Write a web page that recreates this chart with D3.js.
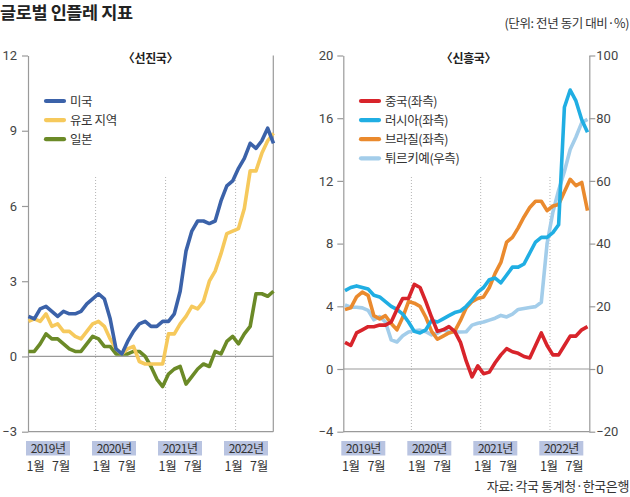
<!DOCTYPE html>
<html><head><meta charset="utf-8">
<script src="https://cdn.jsdelivr.net/npm/d3@7"></script>
<style>
html,body{margin:0;padding:0;background:#fff;}
svg{display:block;font-family:"Noto Sans CJK KR","Noto Sans",sans-serif;}
</style></head>
<body>
<svg id="c" width="630" height="497"></svg>
<script>
// ---------- data ----------
const years = ['2019년', '2020년', '2021년', '2022년'];
const monthLabels = ['1월', '7월'];
const advTicks = [-3, 0, 3, 6, 9, 12];
const emLeftTicks = [-4, 0, 4, 8, 12, 16, 20];
const emRightTicks = [-20, 0, 20, 40, 60, 80, 100];

// monthly, Jan 2019 .. Jul 2022
const usCPI = [1.6,1.5,1.9,2.0,1.8,1.6,1.8,1.7,1.7,1.8,2.1,2.3,
  2.5,2.3,1.5,0.3,0.1,0.6,1.0,1.3,1.4,1.2,1.2,1.4,
  1.4,1.7,2.6,4.2,5.0,5.4,5.4,5.3,5.4,6.2,6.8,7.0,
  7.5,7.9,8.5,8.3,8.6,9.1,8.5];
const euroCPI = [1.4,1.5,1.4,1.7,1.2,1.3,1.0,1.0,0.8,0.7,1.0,1.3,
  1.4,1.2,0.7,0.3,0.1,0.3,0.4,-0.2,-0.3,-0.3,-0.3,-0.3,
  0.9,0.9,1.3,1.6,2.0,1.9,2.2,3.0,3.4,4.1,4.9,5.0,
  5.1,5.9,7.4,7.4,8.1,8.6,8.9];
const japanCPI = [0.2,0.2,0.5,0.9,0.7,0.7,0.5,0.3,0.2,0.2,0.5,0.8,
  0.7,0.4,0.4,0.1,0.1,0.1,0.2,0.2,0.0,-0.4,-0.9,-1.2,
  -0.7,-0.5,-0.4,-1.1,-0.8,-0.5,-0.3,-0.4,0.2,0.1,0.6,0.8,
  0.5,0.9,1.2,2.5,2.5,2.4,2.6];
const chinaCPI = [1.7,1.5,2.3,2.5,2.7,2.7,2.8,2.8,3.0,3.8,4.5,4.5,
  5.4,5.2,4.3,3.3,2.4,2.5,2.7,2.4,1.7,0.5,-0.5,0.2,
  -0.3,-0.2,0.4,0.9,1.3,1.1,1.0,0.8,0.7,1.5,2.3,1.5,
  0.9,0.9,1.5,2.1,2.1,2.5,2.7];
const russiaCPI = [5.0,5.2,5.3,5.2,5.1,4.7,4.6,4.3,4.0,3.8,3.5,3.0,
  2.4,2.3,2.5,3.1,3.0,3.2,3.4,3.6,3.7,4.0,4.4,4.9,
  5.2,5.7,5.8,5.5,6.0,6.5,6.5,6.7,7.4,8.1,8.4,8.4,
  8.7,9.2,16.7,17.8,17.1,15.9,15.1];
const brazilCPI = [3.8,3.9,4.6,4.9,4.7,3.4,3.2,3.4,2.9,2.5,3.3,4.3,
  4.2,4.0,3.3,2.4,1.9,2.1,2.3,2.4,3.1,3.9,4.3,4.5,
  4.6,5.2,6.1,6.8,8.1,8.4,9.0,9.7,10.3,10.7,10.7,10.1,
  10.4,10.5,11.3,12.1,11.7,11.9,10.1];
const turkeyCPI = [20.4,19.7,19.7,19.5,18.7,15.7,16.7,15.0,9.3,8.6,10.6,11.8,
  12.2,12.4,11.9,10.9,11.4,12.6,11.8,11.8,11.8,11.9,14.0,14.6,
  15.0,15.6,16.2,17.1,16.6,17.5,19.0,19.3,19.6,19.9,21.3,40.0,
  50.0,57.0,63.0,70.0,74.0,78.6,79.6];

const advSeries = [
  {name: '미국', values: usCPI, color: '#3b62a9'},
  {name: '유로 지역', values: euroCPI, color: '#f6c95c'},
  {name: '일본', values: japanCPI, color: '#6b8a27'}
];
const emSeries = [
  {name: '중국(좌측)', values: chinaCPI, color: '#d8242b', axis: 'L'},
  {name: '러시아(좌측)', values: russiaCPI, color: '#20aee3', axis: 'L'},
  {name: '브라질(좌측)', values: brazilCPI, color: '#ea8a2e', axis: 'L'},
  {name: '튀르키예(우측)', values: turkeyCPI, color: '#a3cdea', axis: 'R'}
];

// ---------- drawing ----------
const svg = d3.select('#c');
const numFont = '"Liberation Sans Narrow","Roboto","Noto Sans",sans-serif';

svg.append('text').attr('x', 0).attr('y', 19).attr('font-size', 17.5).attr('font-weight', 700)
  .attr('fill', '#222').attr('letter-spacing', -0.4).text('글로벌 인플레 지표');
svg.append('text').attr('x', 629).attr('y', 28).attr('text-anchor', 'end').attr('font-size', 12.5)
  .attr('fill', '#333').attr('letter-spacing', -0.4).text('(단위: 전년 동기 대비·%)');
svg.append('text').attr('x', 629).attr('y', 491).attr('text-anchor', 'end').attr('font-size', 13)
  .attr('fill', '#333').attr('letter-spacing', -0.4).text('자료: 각국 통계청·한국은행');

const TOP = 55.5, BOTTOM = 431.7, GRID_TOP = 177;

function panel(cfg) {
  const g = svg.append('g');
  const n = cfg.series[0].values.length;
  const x = d3.scaleLinear().domain([0, n - 1]).range([cfg.dataL, cfg.dataR]);
  const y = d3.scaleLinear().domain(cfg.yDomain).range([BOTTOM, TOP]);
  const y2 = cfg.y2Domain ? d3.scaleLinear().domain(cfg.y2Domain).range([BOTTOM, TOP]) : null;

  // year gridlines (between Dec and Jan)
  [12, 24, 36].forEach(m => {
    g.append('line').attr('x1', x(m - 0.5)).attr('x2', x(m - 0.5))
      .attr('y1', GRID_TOP).attr('y2', BOTTOM)
      .attr('stroke', '#b5b5b5').attr('stroke-width', 1).attr('stroke-dasharray', '1,2');
  });

  // zero line & bottom line
  g.append('line').attr('x1', cfg.axisL).attr('x2', cfg.axisR).attr('y1', y(0)).attr('y2', y(0))
    .attr('stroke', '#9a9a9a').attr('stroke-width', 1.2);
  g.append('line').attr('x1', cfg.axisL).attr('x2', cfg.axisR).attr('y1', BOTTOM).attr('y2', BOTTOM)
    .attr('stroke', '#9a9a9a').attr('stroke-width', 1.2);

  // left axis
  const ax = g.append('g').attr('transform', `translate(${cfg.axisL},0)`)
    .call(d3.axisLeft(y).tickValues(cfg.ticks).tickSize(6).tickSizeOuter(0).tickPadding(cfg.padL)
      .tickFormat(d3.format('d')));
  // right axis / edge
  let axR;
  if (y2) {
    axR = g.append('g').attr('transform', `translate(${cfg.axisR},0)`)
      .call(d3.axisRight(y2).tickValues(cfg.ticks2).tickSize(6).tickSizeOuter(0).tickPadding(1)
        .tickFormat(d3.format('d')));
  } else {
    g.append('line').attr('x1', cfg.axisR).attr('x2', cfg.axisR).attr('y1', TOP).attr('y2', BOTTOM)
      .attr('stroke', '#9a9a9a').attr('stroke-width', 1.2);
  }
  [ax, axR].forEach(a => {
    if (!a) return;
    a.select('.domain').attr('stroke', '#9a9a9a').attr('stroke-width', 1.2);
    a.selectAll('.tick line').attr('stroke', '#9a9a9a').attr('stroke-width', 1.2);
    a.selectAll('.tick text').attr('font-family', numFont).attr('font-size', 13).attr('fill', '#444');
  });

  // subtitle
  g.append('text').attr('x', cfg.titleX).attr('y', 63).attr('text-anchor', 'middle')
    .attr('font-size', 12).attr('font-weight', 700).attr('fill', '#222').attr('letter-spacing', -0.3)
    .text(cfg.title);

  // x labels
  const yx = d3.scalePoint().domain(years).range([cfg.axisL + 20, cfg.axisL + 218]);
  years.forEach(yr => {
    const cx = yx(yr);
    g.append('rect').attr('x', cx - 22).attr('y', 441).attr('width', 44).attr('height', 14.5)
      .attr('fill', '#b9c4e1');
    g.append('text').attr('x', cx).attr('y', 452.5).attr('text-anchor', 'middle')
      .attr('font-size', 12).attr('fill', '#333').attr('letter-spacing', -0.6).text(yr);
    monthLabels.forEach((ml, i) => {
      g.append('text').attr('x', cx + (i === 0 ? -12.5 : 13)).attr('y', 471)
        .attr('text-anchor', 'middle').attr('font-size', 12.5).attr('fill', '#333')
        .attr('letter-spacing', -0.3).text(ml);
    });
  });

  // lines
  const lineFor = sc => d3.line().x((d, i) => x(i)).y(d => sc(d));
  cfg.drawOrder.forEach(idx => {
    const s = cfg.series[idx];
    const sc = s.axis === 'R' ? y2 : y;
    g.append('path').datum(s.values).attr('d', lineFor(sc))
      .attr('fill', 'none').attr('stroke', s.color).attr('stroke-width', 3.6)
      .attr('stroke-linejoin', 'round').attr('stroke-linecap', 'butt');
  });

  // legend
  cfg.series.forEach((s, i) => {
    const ly = 101 + i * 19.1;
    g.append('line').attr('x1', cfg.legX).attr('x2', cfg.legX + 18).attr('y1', ly).attr('y2', ly)
      .attr('stroke', s.color).attr('stroke-width', 4.2).attr('stroke-linecap', 'round');
    g.append('text').attr('x', cfg.legX + 24).attr('y', ly + 4.5).attr('font-size', 12.5)
      .attr('fill', '#333').attr('letter-spacing', -0.4).text(s.name);
  });
}

panel({
  series: advSeries, drawOrder: [2, 1, 0],
  axisL: 28, axisR: 273.3, dataL: 28.5, dataR: 273.5,
  yDomain: [-3, 12], ticks: advTicks, padL: 5,
  title: '〈선진국〉', titleX: 150.5, legX: 46
});
panel({
  series: emSeries, drawOrder: [3, 2, 1, 0],
  axisL: 343.3, axisR: 589.3, dataL: 345, dataR: 587.5,
  yDomain: [-4, 20], ticks: emLeftTicks, padL: 4,
  y2Domain: [-20, 100], ticks2: emRightTicks,
  title: '〈신흥국〉', titleX: 468.5, legX: 361
});
</script>
</body></html>
